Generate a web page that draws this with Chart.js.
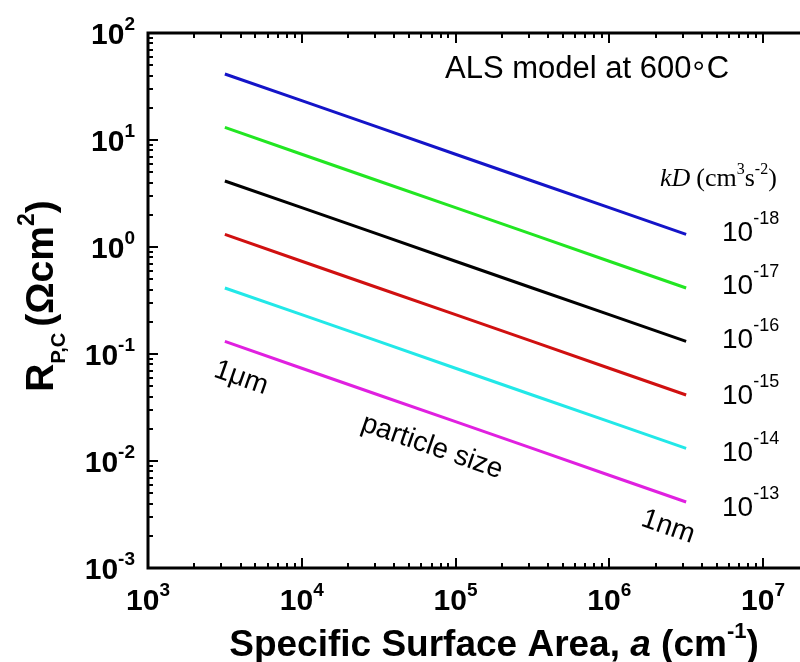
<!DOCTYPE html>
<html>
<head>
<meta charset="utf-8">
<script src="https://cdn.jsdelivr.net/npm/chart.js@4.4.1/dist/chart.umd.min.js"></script>
<style>
  html, body { margin: 0; padding: 0; background: #fff; }
</style>
</head>
<body>
<canvas id="rpcChart" width="800" height="662"></canvas>
<script>
// Superficie específica a (cm^-1), de 1 µm a 1 nm
const surfaceArea = [3162, 10000, 31623, 100000, 316228, 1000000, 3162278];

// R_P,C (ohm cm^2) para cada kD (cm^3 s^-2)
const rpcKd18 = [41.4, 23.3, 13.1, 7.36, 4.14, 2.33, 1.31];
const rpcKd17 = [13.1, 7.36, 4.14, 2.33, 1.31, 0.736, 0.414];
const rpcKd16 = [4.14, 2.33, 1.31, 0.736, 0.414, 0.233, 0.131];
const rpcKd15 = [1.31, 0.736, 0.414, 0.233, 0.131, 0.0736, 0.0414];
const rpcKd14 = [0.414, 0.233, 0.131, 0.0736, 0.0414, 0.0233, 0.0131];
const rpcKd13 = [0.131, 0.0736, 0.0414, 0.0233, 0.0131, 0.00736, 0.00414];

const kdExponents = ['-18', '-17', '-16', '-15', '-14', '-13'];
const xTickExponents = [3, 4, 5, 6, 7];
const yTickExponents = [-3, -2, -1, 0, 1, 2];

const seriesValues = [rpcKd18, rpcKd17, rpcKd16, rpcKd15, rpcKd14, rpcKd13];
const seriesColors = ['#1414c8', '#22e622', '#000000', '#d01010', '#22e8e8', '#e020e0'];

const SANS = '"Liberation Sans", Arial, sans-serif';
const SERIF = '"Liberation Serif", "Times New Roman", serif';

// dibuja un texto por partes (superíndices, cursivas...) y devuelve el ancho
function drawParts(ctx, parts, x, y, measureOnly) {
    let cx = x;
    parts.forEach(p => {
        ctx.font = p.font;
        if (!measureOnly) ctx.fillText(p.text, cx, y + (p.dy || 0));
        cx += ctx.measureText(p.text).width + (p.gap || 0);
    });
    return cx - x;
}

function powerParts(exp, size, supSize, weight, supDy) {
    return [
        { text: '10', font: weight + ' ' + size + 'px ' + SANS },
        { text: String(exp), font: weight + ' ' + supSize + 'px ' + SANS, dy: supDy, gap: 0 }
    ];
}

// marco con marcas hacia dentro (mayores y menores) y etiquetas 10^n
const frameAndLabels = {
    id: 'frameAndLabels',
    afterDraw(chart) {
        const ctx = chart.ctx;
        const area = chart.chartArea;
        const xs = chart.scales.x;
        const ys = chart.scales.y;
        ctx.save();
        ctx.fillStyle = '#000';
        ctx.strokeStyle = '#000';
        ctx.textBaseline = 'alphabetic';

        // ejes
        ctx.lineWidth = 3;
        ctx.beginPath();
        ctx.moveTo(area.left, area.top);
        ctx.lineTo(area.left, area.bottom);
        ctx.moveTo(area.left - 1.5, area.top);
        ctx.lineTo(area.right, area.top);
        ctx.moveTo(area.left - 1.5, area.bottom);
        ctx.lineTo(area.right, area.bottom);
        ctx.stroke();

        // marcas eje x (abajo y arriba)
        ctx.lineWidth = 2;
        ctx.beginPath();
        xTickExponents.forEach(e => {
            for (let m = 1; m <= 9; m++) {
                const v = m * Math.pow(10, e);
                if (v < xs.min || v > xs.max) continue;
                const px = Math.round(xs.getPixelForValue(v));
                const len = m === 1 ? 10 : 5;
                ctx.moveTo(px, area.bottom);
                ctx.lineTo(px, area.bottom - len);
                ctx.moveTo(px, area.top);
                ctx.lineTo(px, area.top + len);
            }
        });
        // marcas eje y
        yTickExponents.forEach(e => {
            for (let m = 1; m <= 9; m++) {
                const v = m * Math.pow(10, e);
                if (v < ys.min * 0.999 || v > ys.max * 1.001) continue;
                const py = Math.round(ys.getPixelForValue(v));
                const len = m === 1 ? 10 : 5;
                ctx.moveTo(area.left, py);
                ctx.lineTo(area.left + len, py);
            }
        });
        ctx.stroke();

        // etiquetas eje x
        xTickExponents.forEach(e => {
            const parts = powerParts(e, 30, 19, 'bold', -14);
            const w = drawParts(ctx, parts, 0, 0, true);
            const px = xs.getPixelForValue(Math.pow(10, e));
            drawParts(ctx, parts, px - w / 2, 610);
        });
        // etiquetas eje y
        yTickExponents.forEach(e => {
            const parts = powerParts(e, 30, 19, 'bold', -14);
            const w = drawParts(ctx, parts, 0, 0, true);
            const py = ys.getPixelForValue(Math.pow(10, e));
            drawParts(ctx, parts, 135 - w, py + 11);
        });

        // título eje x
        const xTitle = [
            { text: 'Specific Surface Area, ', font: 'bold 37px ' + SANS },
            { text: 'a', font: 'italic bold 37px ' + SANS },
            { text: ' (cm', font: 'bold 37px ' + SANS },
            { text: '-1', font: 'bold 22px ' + SANS, dy: -18 },
            { text: ')', font: 'bold 37px ' + SANS }
        ];
        const xtw = drawParts(ctx, xTitle, 0, 0, true);
        drawParts(ctx, xTitle, 494 - xtw / 2, 656);

        // título eje y
        const yTitle = [
            { text: 'R', font: 'bold 39px ' + SANS },
            { text: 'P,C', font: 'bold 20px ' + SANS, dy: 12, gap: 6 },
            { text: '(\u03A9cm', font: 'bold 39px ' + SANS },
            { text: '2', font: 'bold 23px ' + SANS, dy: -19 },
            { text: ')', font: 'bold 39px ' + SANS }
        ];
        const ytw = drawParts(ctx, yTitle, 0, 0, true);
        ctx.save();
        ctx.translate(53, 296);
        ctx.rotate(-Math.PI / 2);
        drawParts(ctx, yTitle, -ytw / 2, 0);
        ctx.restore();

        // anotaciones
        drawParts(ctx, [
            { text: 'ALS model at 600', font: '31px ' + SANS, gap: 1 },
            { text: '\u00B0', font: '31px ' + SANS, dy: 5, gap: 2 },
            { text: 'C', font: '31px ' + SANS }
        ], 445, 78);

        drawParts(ctx, [
            { text: 'kD', font: 'italic 26px ' + SERIF, gap: 6 },
            { text: '(cm', font: '26px ' + SERIF },
            { text: '3', font: '16px ' + SERIF, dy: -12 },
            { text: 's', font: '26px ' + SERIF },
            { text: '-2', font: '16px ' + SERIF, dy: -12 },
            { text: ')', font: '26px ' + SERIF }
        ], 660, 186);

        const kdBaselines = [241, 294, 348, 404, 461, 516];
        kdExponents.forEach((e, i) => {
            drawParts(ctx, powerParts(e, 28, 18, 'normal', -17), 722, kdBaselines[i]);
        });

        // textos inclinados paralelos a las rectas
        const dxDec = xs.getPixelForValue(1e4) - xs.getPixelForValue(1e3);
        const dyDec = ys.getPixelForValue(1) - ys.getPixelForValue(10);
        const ang = Math.atan(0.5 * dyDec / dxDec);
        [['1\u03BCm', 241, 378], ['particle size', 432, 447], ['1nm', 668, 527]].forEach(t => {
            ctx.save();
            ctx.translate(t[1], t[2]);
            ctx.rotate(ang);
            ctx.font = '28px ' + SANS;
            ctx.textAlign = 'center';
            ctx.textBaseline = 'middle';
            ctx.fillText(t[0], 0, 0);
            ctx.restore();
        });

        ctx.restore();
    }
};

new Chart(document.getElementById('rpcChart'), {
    type: 'line',
    data: {
        datasets: seriesValues.map((vals, i) => ({
            label: '10^' + kdExponents[i],
            data: surfaceArea.map((a, j) => ({ x: a, y: vals[j] })),
            borderColor: seriesColors[i],
            borderWidth: 3,
            pointRadius: 0,
            tension: 0,
            fill: false
        }))
    },
    options: {
        responsive: false,
        animation: false,
        devicePixelRatio: 1,
        layout: { padding: { left: 148, top: 33, right: 0, bottom: 94 } },
        plugins: {
            legend: { display: false },
            tooltip: { enabled: false }
        },
        scales: {
            x: { type: 'logarithmic', min: 1e3, max: 1.74e7, display: false },
            y: { type: 'logarithmic', min: 1e-3, max: 1e2, display: false }
        }
    },
    plugins: [frameAndLabels]
});
</script>
</body>
</html>
